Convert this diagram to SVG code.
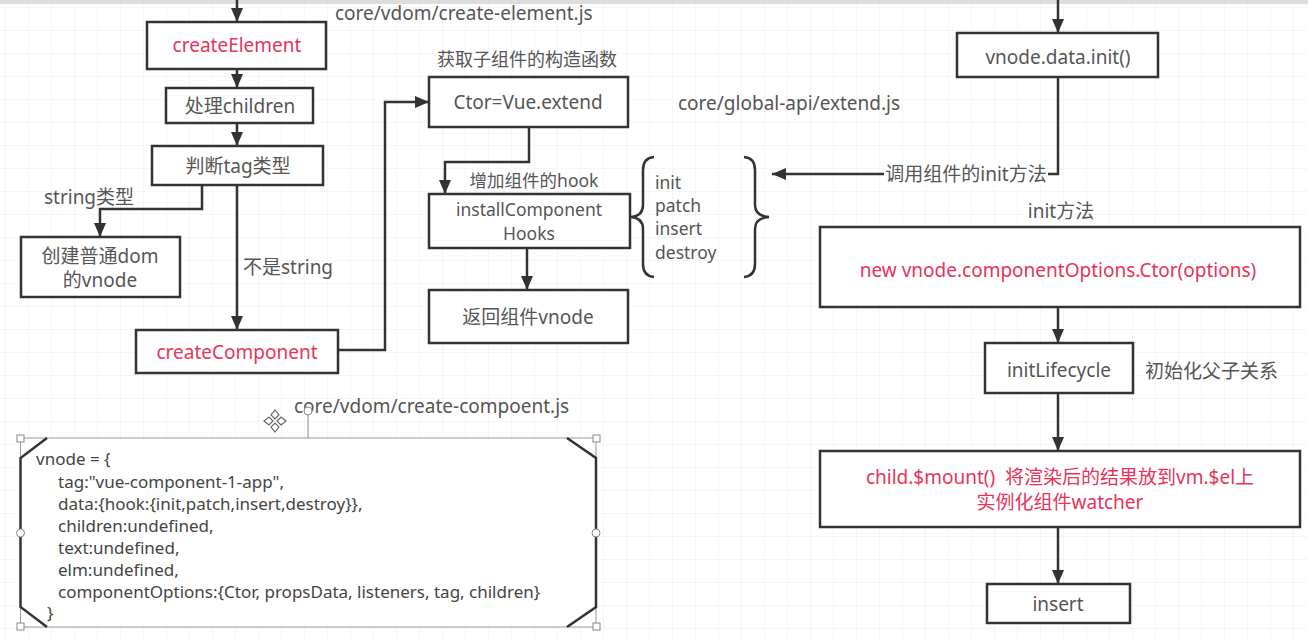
<svg xmlns="http://www.w3.org/2000/svg" width="1308" height="640" viewBox="0 0 1308 640">
<defs>
<pattern id="grid" width="23" height="23" patternUnits="userSpaceOnUse" x="5" y="7">
<path d="M23 0 L0 0 0 23" fill="none" stroke="#ededed" stroke-width="1"/>
</pattern>
<marker id="arr" viewBox="0 0 14 12" refX="14" refY="6" markerWidth="14" markerHeight="12" markerUnits="userSpaceOnUse" orient="auto">
<path d="M0,0 L14,6 L0,12 z" fill="#333"/>
</marker>
</defs>
<style>
.box{fill:#fff;stroke:#333;stroke-width:2.5}
.t{font-family:"Noto Sans","Noto Sans CJK SC",sans-serif;font-size:19px;fill:#555;text-anchor:middle;dominant-baseline:central}
.zh{font-size:18px}
.s{font-size:17.5px}
.red{fill:#e8335a}
.l{text-anchor:start}
.c{fill:none;stroke:#333;stroke-width:2.5}
.code{font-family:"Noto Sans","Noto Sans CJK SC",sans-serif;font-size:17px;fill:#444;dominant-baseline:central}
.h{fill:#fff;stroke:#888;stroke-width:1}
</style>
<rect width="1308" height="640" fill="#fff"/>
<rect width="1308" height="640" fill="url(#grid)"/>
<rect x="0" y="0" width="1308" height="4" fill="#ddd"/>

<g id="connectors">
<line class="c" x1="237" y1="0" x2="237" y2="22" marker-end="url(#arr)"/>
<line class="c" x1="237" y1="69" x2="237" y2="88" marker-end="url(#arr)"/>
<line class="c" x1="237" y1="123" x2="237" y2="146" marker-end="url(#arr)"/>
<polyline class="c" points="202,185 202,209 100,209 100,237" marker-end="url(#arr)"/>
<line class="c" x1="237" y1="185" x2="237" y2="330" marker-end="url(#arr)"/>
<polyline class="c" points="338,350 385,350 385,102 429,102" marker-end="url(#arr)"/>
<polyline class="c" points="529,127 529,162 445,162 445,194" marker-end="url(#arr)"/>
<line class="c" x1="527" y1="248" x2="527" y2="290" marker-end="url(#arr)"/>
<line class="c" x1="1058" y1="0" x2="1058" y2="33" marker-end="url(#arr)"/>
<polyline class="c" points="1058,77 1058,174 772,174" marker-end="url(#arr)"/>
<line class="c" x1="1058" y1="307" x2="1058" y2="343" marker-end="url(#arr)"/>
<line class="c" x1="1058" y1="393" x2="1058" y2="451" marker-end="url(#arr)"/>
<line class="c" x1="1058" y1="527" x2="1058" y2="584" marker-end="url(#arr)"/>
<rect x="884" y="163" width="164" height="22" fill="#fff"/>
<text class="t" x="966" y="174">调用组件的init方法</text>
<text class="t" x="89" y="197">string类型</text>
<text class="t" x="288" y="267">不是string</text>
<text class="t s" x="534" y="180">增加组件的hook</text>
</g>

<text class="t l" x="335" y="13">core/vdom/create-element.js</text>
<text class="t zh" x="527" y="59">获取子组件的构造函数</text>
<text class="t l" x="678" y="103">core/global-api/extend.js</text>
<text class="t" x="1061" y="211">init方法</text>
<text class="t l" x="1145" y="371">初始化父子关系</text>
<text class="t l" x="294" y="406">core/vdom/create-compoent.js</text>

<g id="createElement"><rect class="box" x="147" y="22" width="179" height="47"/><text class="t red" x="237" y="45">createElement</text></g>
<g id="children"><rect class="box" x="166" y="88" width="147" height="35"/><text class="t" x="240" y="106">处理children</text></g>
<g id="tagType"><rect class="box" x="152" y="146" width="171" height="39"/><text class="t" x="238" y="166">判断tag类型</text></g>
<g id="normalVnode"><rect class="box" x="21" y="237" width="159" height="60"/><text class="t" x="100" y="256">创建普通dom</text><text class="t" x="100" y="280">的vnode</text></g>
<g id="createComponent"><rect class="box" x="136" y="330" width="202" height="43"/><text class="t red" x="237" y="352">createComponent</text></g>
<g id="ctor"><rect class="box" x="429" y="77" width="199" height="50"/><text class="t" x="528" y="102">Ctor=Vue.extend</text></g>
<g id="installHooks"><rect class="box" x="429" y="194" width="201" height="54"/><text class="t s" x="529" y="209">installComponent</text><text class="t s" x="529" y="233">Hooks</text></g>
<g id="returnVnode"><rect class="box" x="429" y="290" width="199" height="53"/><text class="t" x="528" y="317">返回组件vnode</text></g>
<g id="hooks">
<path class="c" d="M654,157 Q643,158 643,170 L643,205 Q643,216 631,217 Q643,218 643,229 L643,264 Q643,276 654,277"/>
<path class="c" d="M744,157 Q755,158 755,170 L755,205 Q755,216 769,217 Q755,218 755,229 L755,264 Q755,276 744,277"/>
<text class="t l s" x="655" y="182">init</text>
<text class="t l s" x="655" y="205">patch</text>
<text class="t l s" x="655" y="228">insert</text>
<text class="t l s" x="655" y="252">destroy</text>
</g>
<g id="dataInit"><rect class="box" x="957" y="33" width="201" height="44"/><text class="t" x="1058" y="57">vnode.data.init()</text></g>
<g id="newCtor"><rect class="box" x="820" y="227" width="480" height="80"/><text class="t red" x="1058" y="270">new vnode.componentOptions.Ctor(options)</text></g>
<g id="initLifecycle"><rect class="box" x="985" y="343" width="148" height="50"/><text class="t" x="1059" y="370">initLifecycle</text></g>
<g id="mount"><rect class="box" x="820" y="451" width="480" height="76"/><text class="t red" x="1060" y="477" xml:space="preserve">child.$mount()  将渲染后的结果放到vm.$el上</text><text class="t red" x="1060" y="502">实例化组件watcher</text></g>
<g id="insert"><rect class="box" x="987" y="584" width="143" height="39"/><text class="t" x="1058" y="604">insert</text></g>

<g id="vnodeCode">
<rect x="20.5" y="438" width="575.5" height="189" fill="#fff" stroke="#999" stroke-width="1"/>
<path class="c" d="M47,438 L20.5,458 L20.5,607 L47,627"/>
<path class="c" d="M567,438 L596,458 L596,607 L567,627"/>
<rect class="h" x="17" y="435" width="7" height="7"/>
<rect class="h" x="593" y="435" width="7" height="7"/>
<rect class="h" x="17" y="623" width="7" height="7"/>
<rect class="h" x="593" y="623" width="7" height="7"/>
<circle class="h" cx="20.5" cy="533" r="4"/>
<circle class="h" cx="596" cy="533" r="4"/>
<line x1="308" y1="415" x2="308" y2="438" stroke="#888" stroke-width="1"/>
<circle class="h" cx="308" cy="411" r="4"/>
<g transform="translate(275,421)" fill="#fff" stroke="#666" stroke-width="1.2">
<path d="M0,-11 L4,-6 L0,-2 L-4,-6 Z"/><path d="M0,11 L4,6 L0,2 L-4,6 Z"/><path d="M-11,0 L-6,4 L-2,0 L-6,-4 Z"/><path d="M11,0 L6,4 L2,0 L6,-4 Z"/>
</g>
<text class="code" x="36" y="458">vnode = {</text>
<text class="code" x="58" y="481">tag:"vue-component-1-app",</text>
<text class="code" x="58" y="503">data:{hook:{init,patch,insert,destroy}},</text>
<text class="code" x="58" y="525">children:undefined,</text>
<text class="code" x="58" y="547">text:undefined,</text>
<text class="code" x="58" y="569">elm:undefined,</text>
<text class="code" x="58" y="591">componentOptions:{Ctor, propsData, listeners, tag, children}</text>
<text class="code" x="47" y="612">}</text>
</g>
</svg>
